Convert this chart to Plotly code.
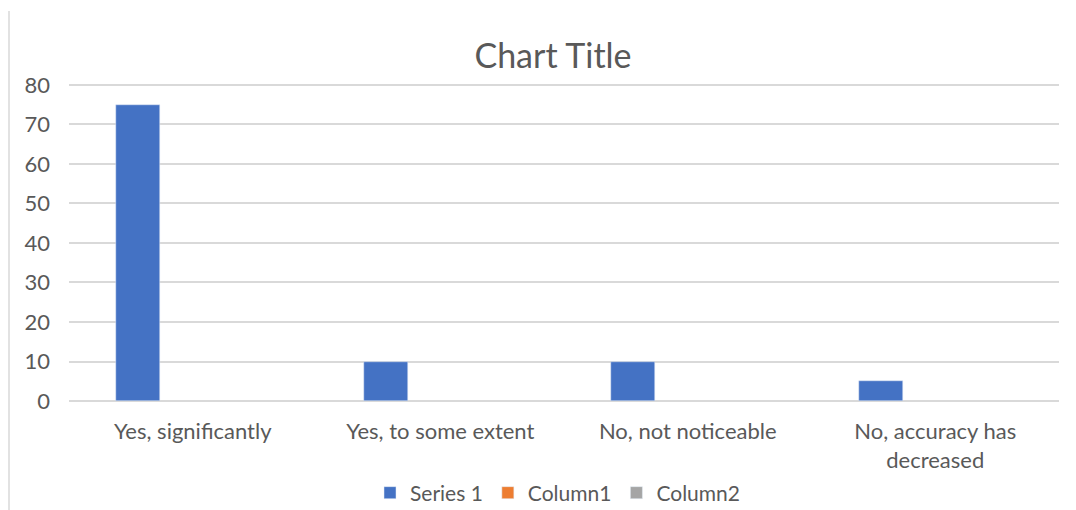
import plotly.graph_objects as go

# Survey answers and counts
categories = ["Yes, significantly", "Yes, to some extent", "No, not noticeable", "No, accuracy has decreased"]
tick_labels = ["Yes, significantly", "Yes, to some extent", "No, not noticeable", "No, accuracy has<br>decreased"]
series_1 = [75, 10, 10, 5]
column_1 = [None, None, None, None]
column_2 = [None, None, None, None]
y_ticks = [0, 10, 20, 30, 40, 50, 60, 70, 80]

TEXT = "#595959"
GRID = "#d9d9d9"
FONT = "Lato, 'Open Sans', sans-serif"

W, H = 1076, 510
L, R, T, B = 69, 17, 83, 109

fig = go.Figure()
bar_w = 0.178
for i, (name, vals, col) in enumerate([
    ("Series 1", series_1, "#4472C4"),
    ("Column1", column_1, "#ED7D31"),
    ("Column2", column_2, "#A5A5A5"),
]):
    fig.add_trace(go.Bar(
        x=categories, y=vals, name=name, marker_color=col,
        width=bar_w, offset=-0.31 + i * bar_w,
    ))

fig.update_layout(
    width=W, height=H,
    margin=dict(l=L, r=R, t=T, b=B, autoexpand=False),
    paper_bgcolor="white", plot_bgcolor="white",
    font=dict(family=FONT, color=TEXT, size=22),
    title=dict(text="Chart Title", x=553 / W, xanchor="center",
               y=1 - 56 / H, yanchor="middle",
               font=dict(size=34, color=TEXT, family=FONT)),
    showlegend=True,
    legend=dict(orientation="h", x=(370 - L) / (W - L - R), xanchor="left",
                y=-(493 - (H - B)) / (H - T - B), yanchor="middle",
                font=dict(size=21, color=TEXT), itemwidth=30,
                traceorder="normal"),
    bargap=0, barmode="group",
)
fig.update_xaxes(
    tickmode="array", tickvals=categories, ticktext=tick_labels,
    showgrid=False, showline=False, zeroline=False,
    tickfont=dict(size=22, color=TEXT), ticks="", ticklabelstandoff=15,
)
fig.update_yaxes(
    range=[0, 80.5], tickmode="array", tickvals=y_ticks,
    showgrid=True, gridcolor=GRID, gridwidth=1.5,
    zeroline=True, zerolinecolor=GRID, zerolinewidth=1.5,
    showline=False, ticks="", tickfont=dict(size=22, color=TEXT),
    ticklabelstandoff=18,
)
# Chart-area border on the left edge
fig.add_shape(type="line", xref="paper", yref="paper",
              x0=(9 - L) / (W - L - R), x1=(9 - L) / (W - L - R),
              y0=(H - B - 11) / (H - T - B), y1=-(B + 5) / (H - T - B),
              line=dict(color=GRID, width=1.5))

fig.write_html("out.html")
